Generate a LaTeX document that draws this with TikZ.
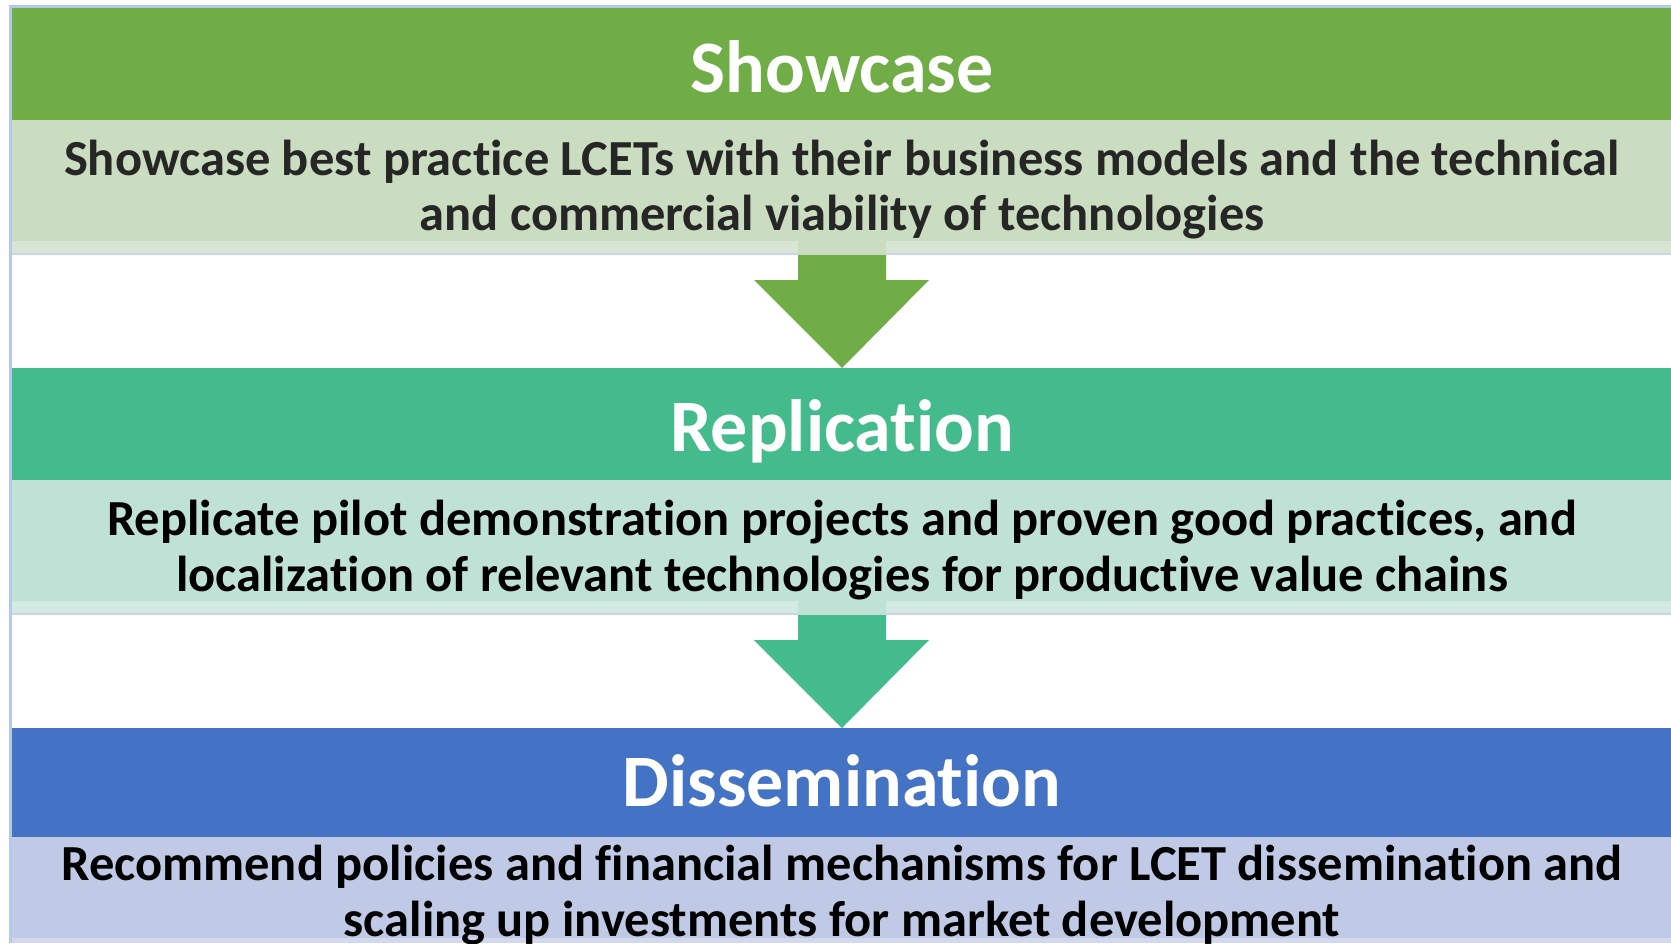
\documentclass[tikz,border=0pt]{standalone}
\usepackage{fontspec}
\setmainfont{Carlito}[Ligatures={NoCommon}]
\definecolor{frameblue}{RGB}{180,200,232}
\definecolor{gA}{RGB}{112,173,71}
\definecolor{gAl}{RGB}{202,221,192}
\definecolor{gAs}{RGB}{217,229,211}
\definecolor{gB}{RGB}{68,187,140}
\definecolor{gBl}{RGB}{192,226,214}
\definecolor{gBs}{RGB}{211,234,226}
\definecolor{gC}{RGB}{68,114,196}
\definecolor{gCl}{RGB}{192,201,230}
\definecolor{gCs}{RGB}{210,217,238}
\definecolor{sepline}{RGB}{204,212,234}
\definecolor{darktext}{RGB}{38,38,38}
\tikzset{
  title/.style={text=white,font=\bfseries\fontsize{74}{80}\selectfont,inner sep=0pt},
  body/.style={font=\bfseries\fontsize{50.5}{55.5}\selectfont,align=center,inner sep=0pt},
}
\begin{document}
\begin{tikzpicture}[x=1pt,y=-1pt]
\useasboundingbox (0,0) rectangle (1671,943);
\fill[white] (0,0) rectangle (1671,943);
% frame
\fill[frameblue] (9,5) rectangle (1671,7.5);
\fill[frameblue] (9,5) rectangle (11.5,943);
% row 1
\fill[gA] (11.5,7.5) rectangle (1671,120);
\fill[gAl] (11.5,120) rectangle (1671,241);
\fill[gAs] (11.5,241) rectangle (1671,253);
\fill[sepline] (11.5,253) rectangle (1671,255);
\fill[gAl] (798,241) rectangle (886,255);
\fill[gA] (798,255) -- (886,255) -- (886,280) -- (929,280) -- (842,368) -- (754,280) -- (798,280) -- cycle;
% row 2
\fill[gB] (11.5,368) rectangle (1671,480);
\fill[gBl] (11.5,480) rectangle (1671,601);
\fill[gBs] (11.5,601) rectangle (1671,613);
\fill[sepline] (11.5,613) rectangle (1671,615);
\fill[gBl] (798,601) rectangle (886,615);
\fill[gB] (798,615) -- (886,615) -- (886,640) -- (929,640) -- (842,728) -- (754,640) -- (798,640) -- cycle;
% row 3
\fill[gC] (11.5,728) rectangle (1671,837);
\fill[gCl] (11.5,837) rectangle (1671,938);
\fill[gCs] (11.5,938) rectangle (1671,943);
% texts
\node[title] (t1) at (842,67) {Showcase};
\node[body,text=darktext] (b1) at (842,189.5) {Showcase best practice LCETs with their business models and the technical\\and commercial viability of technologies};
\node[title] (t2) at (842,431) {Replication};
\node[body] (b2) at (842,550) {Replicate pilot demonstration projects and proven good practices, and\\localization of relevant technologies for productive value chains};
\node[title] (t3) at (842,781) {Dissemination};
\node[body] (b3) at (842,895) {Recommend policies and financial mechanisms for LCET dissemination and\\scaling up investments for market development};
\end{tikzpicture}
\end{document}
